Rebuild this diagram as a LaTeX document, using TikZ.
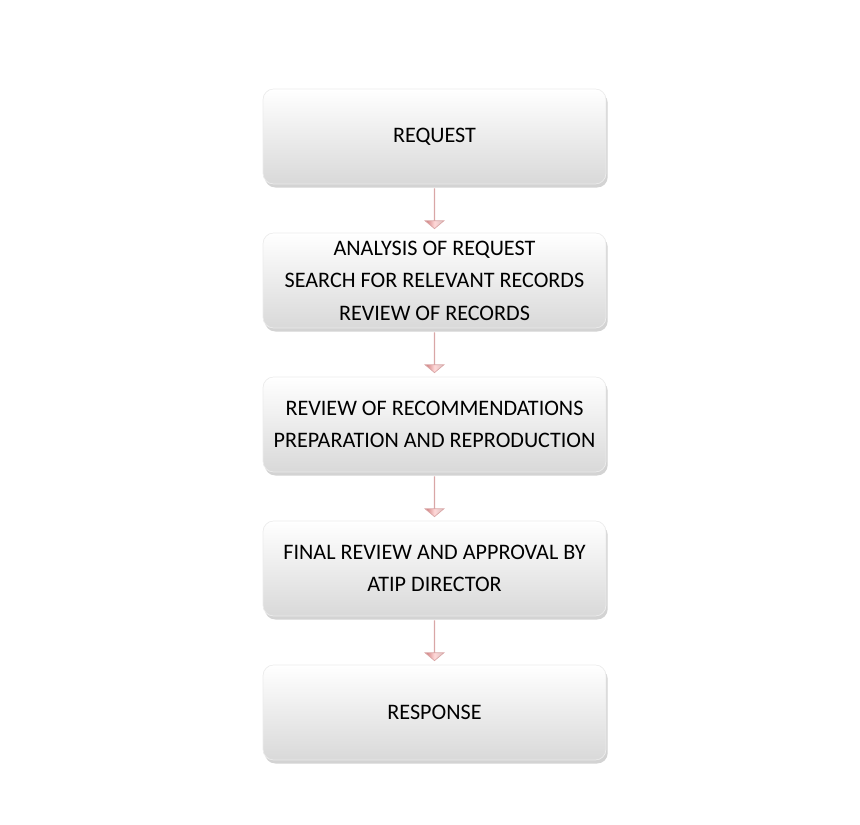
\documentclass[tikz,border=0pt]{standalone}
\usepackage{fontspec}
\setmainfont{Carlito}
\usetikzlibrary{positioning,shapes.arrows,shadows,calc}
\begin{document}
\begin{tikzpicture}[x=0.02cm,y=-0.02cm,
  stage/.style={draw=gray!15, rounded corners=6pt, minimum width=6.86cm, minimum height=1.9cm,
    top color=white, bottom color=gray!30, drop shadow={shadow xshift=1pt,shadow yshift=-2pt,opacity=0.35},
    align=center, font=\fontsize{12.6}{18.5}\selectfont},
  down/.style={single arrow, shape border rotate=270, single arrow head extend=0.18cm,
    minimum height=0.8cm, inner xsep=0pt, inner ysep=0.24cm, single arrow tip angle=100,
    draw=red!40!gray!50, left color=red!45!gray!75, right color=red!25!gray!40, middle color=red!15}]
\useasboundingbox (0,0) rectangle (860,825);

% Stages
\node[stage] (req) at (434.5,136.5) {REQUEST};
\node[stage] (ana) at (434.5,280.5) {ANALYSIS OF REQUEST\\SEARCH FOR RELEVANT RECORDS\\REVIEW OF RECORDS};
\node[stage] (rec) at (434.5,424.5) {REVIEW OF RECOMMENDATIONS\\PREPARATION AND REPRODUCTION};
\node[stage] (fin) at (434.5,568.5) {FINAL REVIEW AND APPROVAL BY\\ATIP DIRECTOR};
\node[stage] (res) at (434.5,712.5) {RESPONSE};

% Arrows between stages
\foreach \a/\b/\n in {req/ana/a1,ana/rec/a2,rec/fin/a3,fin/res/a4}
  \node[down] (\n) at ($(\a.south)!0.5!(\b.north)$) {};
\end{tikzpicture}
\end{document}
